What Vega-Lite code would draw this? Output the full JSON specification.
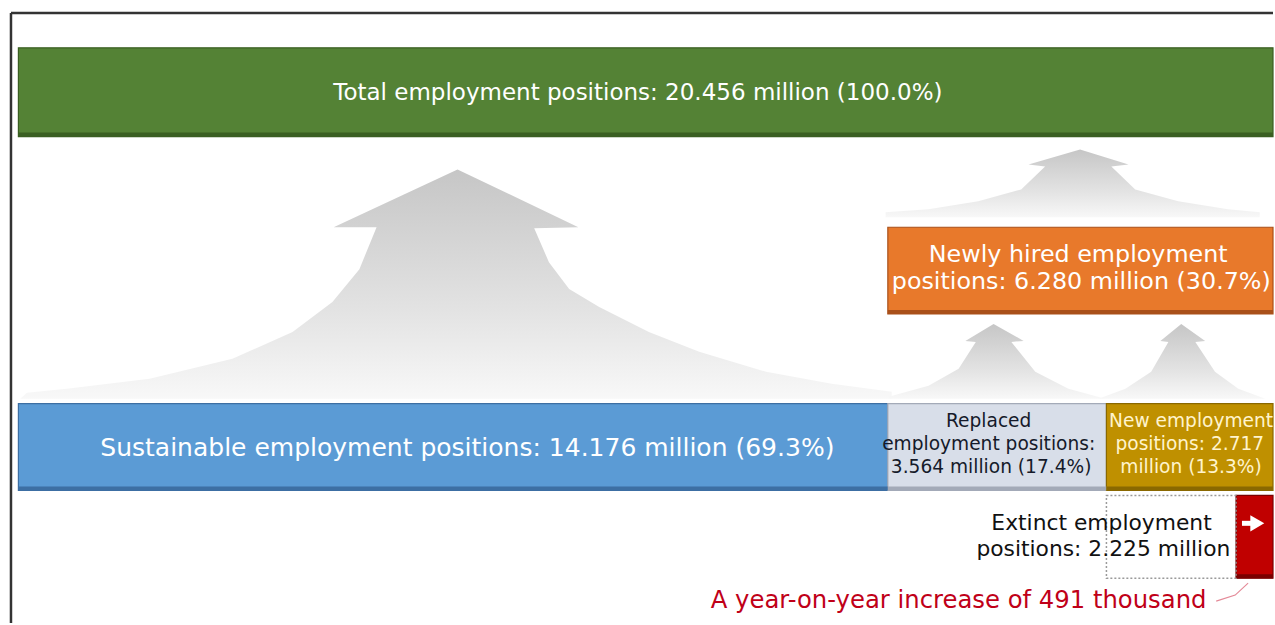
{
  "$schema": "https://vega.github.io/schema/vega-lite/v6.json",
  "width": 1275,
  "height": 625,
  "padding": 0,
  "autosize": {"type": "fit", "contains": "padding"},
  "background": "white",
  "config": {"view": {"stroke": null}, "font": "DejaVu Sans"},
  "datasets": {
    "bars": [
      {"name": "Total", "x0": 0, "x1": 20.456, "top": 48, "bottom": 137},
      {"name": "Newly hired", "x0": 14.176, "x1": 20.456, "top": 228, "bottom": 315},
      {"name": "Sustainable", "x0": 0, "x1": 14.176, "top": 405, "bottom": 492},
      {"name": "Replaced", "x0": 14.176, "x1": 17.74, "top": 405, "bottom": 492},
      {"name": "New", "x0": 17.74, "x1": 20.456, "top": 405, "bottom": 492},
      {"name": "Extinct", "x0": 19.853, "x1": 20.456, "top": 497, "bottom": 580}
    ],
    "arrows": [
      {"arrow": "A", "i": 1, "x": 0.03, "y": 400},
      {"arrow": "A", "i": 2, "x": 0.14, "y": 394},
      {"arrow": "A", "i": 3, "x": 0.79, "y": 390},
      {"arrow": "A", "i": 4, "x": 2.14, "y": 380},
      {"arrow": "A", "i": 5, "x": 3.49, "y": 360},
      {"arrow": "A", "i": 6, "x": 4.47, "y": 333},
      {"arrow": "A", "i": 7, "x": 5.12, "y": 303},
      {"arrow": "A", "i": 8, "x": 5.56, "y": 270},
      {"arrow": "A", "i": 9, "x": 5.84, "y": 228},
      {"arrow": "A", "i": 10, "x": 5.14, "y": 228},
      {"arrow": "A", "i": 11, "x": 7.16, "y": 170},
      {"arrow": "A", "i": 12, "x": 9.13, "y": 228},
      {"arrow": "A", "i": 13, "x": 8.41, "y": 229},
      {"arrow": "A", "i": 14, "x": 8.65, "y": 263},
      {"arrow": "A", "i": 15, "x": 8.98, "y": 290},
      {"arrow": "A", "i": 16, "x": 9.47, "y": 308},
      {"arrow": "A", "i": 17, "x": 10.28, "y": 333},
      {"arrow": "A", "i": 18, "x": 11.10, "y": 353},
      {"arrow": "A", "i": 19, "x": 12.19, "y": 373},
      {"arrow": "A", "i": 20, "x": 13.26, "y": 385},
      {"arrow": "A", "i": 21, "x": 14.24, "y": 393},
      {"arrow": "A", "i": 22, "x": 14.24, "y": 400},
      {"arrow": "B", "i": 1, "x": 14.14, "y": 218},
      {"arrow": "B", "i": 2, "x": 14.14, "y": 213},
      {"arrow": "B", "i": 3, "x": 14.84, "y": 210},
      {"arrow": "B", "i": 4, "x": 15.65, "y": 202},
      {"arrow": "B", "i": 5, "x": 16.35, "y": 190},
      {"arrow": "B", "i": 6, "x": 16.74, "y": 167},
      {"arrow": "B", "i": 7, "x": 16.47, "y": 165},
      {"arrow": "B", "i": 8, "x": 17.31, "y": 150},
      {"arrow": "B", "i": 9, "x": 18.10, "y": 165},
      {"arrow": "B", "i": 10, "x": 17.82, "y": 167},
      {"arrow": "B", "i": 11, "x": 18.21, "y": 190},
      {"arrow": "B", "i": 12, "x": 18.91, "y": 202},
      {"arrow": "B", "i": 13, "x": 19.72, "y": 210},
      {"arrow": "B", "i": 14, "x": 20.24, "y": 213},
      {"arrow": "B", "i": 15, "x": 20.24, "y": 218},
      {"arrow": "C", "i": 1, "x": 14.19, "y": 400},
      {"arrow": "C", "i": 2, "x": 14.19, "y": 398},
      {"arrow": "C", "i": 3, "x": 14.84, "y": 387},
      {"arrow": "C", "i": 4, "x": 15.33, "y": 370},
      {"arrow": "C", "i": 5, "x": 15.61, "y": 343},
      {"arrow": "C", "i": 6, "x": 15.44, "y": 342},
      {"arrow": "C", "i": 7, "x": 15.90, "y": 325},
      {"arrow": "C", "i": 8, "x": 16.39, "y": 342},
      {"arrow": "C", "i": 9, "x": 16.19, "y": 343},
      {"arrow": "C", "i": 10, "x": 16.58, "y": 373},
      {"arrow": "C", "i": 11, "x": 17.12, "y": 390},
      {"arrow": "C", "i": 12, "x": 17.72, "y": 400},
      {"arrow": "D", "i": 1, "x": 17.61, "y": 400},
      {"arrow": "D", "i": 2, "x": 18.05, "y": 390},
      {"arrow": "D", "i": 3, "x": 18.47, "y": 373},
      {"arrow": "D", "i": 4, "x": 18.75, "y": 343},
      {"arrow": "D", "i": 5, "x": 18.62, "y": 342},
      {"arrow": "D", "i": 6, "x": 18.96, "y": 325},
      {"arrow": "D", "i": 7, "x": 19.35, "y": 342},
      {"arrow": "D", "i": 8, "x": 19.19, "y": 343},
      {"arrow": "D", "i": 9, "x": 19.51, "y": 373},
      {"arrow": "D", "i": 10, "x": 19.89, "y": 390},
      {"arrow": "D", "i": 11, "x": 20.33, "y": 400}
    ],
    "texts": [
      {"group": "total", "x": 10.10, "y": 93, "label": "Total employment positions: 20.456 million (100.0%)"},
      {"group": "main", "x": 7.32, "y": 449, "label": "Sustainable employment positions: 14.176 million (69.3%)"},
      {"group": "hired", "x": 17.28, "y": 256, "label": "Newly hired employment"},
      {"group": "hired", "x": 17.33, "y": 283, "label": "positions: 6.280 million (30.7%)"},
      {"group": "replaced", "x": 15.82, "y": 422, "label": "Replaced"},
      {"group": "replaced", "x": 15.82, "y": 445, "label": "employment positions:"},
      {"group": "replaced", "x": 15.86, "y": 468, "label": "3.564 million (17.4%)"},
      {"group": "new", "x": 19.12, "y": 422, "label": "New employment"},
      {"group": "new", "x": 19.10, "y": 445, "label": "positions: 2.717"},
      {"group": "new", "x": 19.12, "y": 468, "label": "million (13.3%)"},
      {"group": "extinct", "x": 17.66, "y": 525, "label": "Extinct employment"},
      {"group": "extinct", "x": 17.69, "y": 551, "label": "positions: 2.225 million"},
      {"group": "red", "x": 15.33, "y": 603, "label": "A year-on-year increase of 491 thousand"}
    ]
  },
  "encoding": {
    "x": {"type": "quantitative", "scale": {"domain": [-0.3, 20.456], "nice": false, "zero": false}, "axis": null},
    "y": {"type": "quantitative", "scale": {"domain": [0, 625], "reverse": true, "nice": false, "zero": false}, "axis": null}
  },
  "layer": [
    {
      "data": {"name": "arrows"},
      "mark": {
        "type": "line",
        "strokeOpacity": 0,
        "fill": {"gradient": "linear", "x1": 0, "y1": 0, "x2": 0, "y2": 1,
          "stops": [{"offset": 0, "color": "#c6c6c6"}, {"offset": 0.6, "color": "#e2e2e2"}, {"offset": 1, "color": "#f8f8f8"}]}
      },
      "encoding": {
        "x": {"field": "x"},
        "y": {"field": "y"},
        "detail": {"field": "arrow"},
        "order": {"field": "i"}
      }
    },
    {
      "data": {"name": "bars"},
      "mark": {"type": "rect", "strokeWidth": 1.2},
      "encoding": {
        "x": {"field": "x0"},
        "x2": {"field": "x1"},
        "y": {"field": "top"},
        "y2": {"field": "bottom"},
        "fill": {"field": "name", "type": "nominal", "legend": null,
          "scale": {"domain": ["Total", "Newly hired", "Sustainable", "Replaced", "New", "Extinct"],
                    "range": ["#548235", "#e8792b", "#5b9bd5", "#d8dee9", "#bf9000", "#c00000"]}},
        "stroke": {"field": "name", "type": "nominal", "legend": null,
          "scale": {"domain": ["Total", "Newly hired", "Sustainable", "Replaced", "New", "Extinct"],
                    "range": ["#3a5f22", "#a9501a", "#3d6fa3", "#a3aab8", "#8a6800", "#7a0000"]}}
      }
    },
    {
      "data": {"name": "bars"},
      "mark": {"type": "rule", "strokeWidth": 4, "yOffset": -2},
      "encoding": {
        "x": {"field": "x0"},
        "x2": {"field": "x1"},
        "y": {"field": "bottom"},
        "stroke": {"field": "name", "type": "nominal", "legend": null}
      }
    },
    {
      "data": {"values": [{"x0": 17.74, "x1": 19.853, "top": 497, "bottom": 580}]},
      "mark": {"type": "rect", "fill": null, "stroke": "#9a9a9a", "strokeWidth": 1.5, "strokeDash": [2, 2]},
      "encoding": {
        "x": {"field": "x0"},
        "x2": {"field": "x1"},
        "y": {"field": "top"},
        "y2": {"field": "bottom"}
      }
    },
    {
      "data": {"values": [{"x0": 19.95, "x1": 20.17, "y": 525}]},
      "mark": {"type": "rule", "color": "white", "strokeWidth": 5},
      "encoding": {"x": {"field": "x0"}, "x2": {"field": "x1"}, "y": {"field": "y"}}
    },
    {
      "data": {"values": [{"x": 20.2, "y": 525}]},
      "mark": {"type": "point", "shape": "triangle-right", "filled": true, "color": "white", "size": 260, "opacity": 1},
      "encoding": {"x": {"field": "x"}, "y": {"field": "y"}}
    },
    {
      "data": {"values": [{"i": 1, "x": 19.53, "y": 603}, {"i": 2, "x": 19.84, "y": 597}, {"i": 3, "x": 20.05, "y": 585}]},
      "mark": {"type": "line", "color": "#e48a98", "strokeWidth": 1.2},
      "encoding": {"x": {"field": "x"}, "y": {"field": "y"}, "order": {"field": "i"}}
    },
    {
      "data": {"values": [{"x": -0.121, "y0": 13, "y1": 625}]},
      "mark": {"type": "rule", "color": "#333333", "strokeWidth": 2.5},
      "encoding": {"x": {"field": "x"}, "y": {"field": "y0"}, "y2": {"field": "y1"}}
    },
    {
      "data": {"values": [{"x0": -0.121, "x1": 20.456, "y": 13}]},
      "mark": {"type": "rule", "color": "#333333", "strokeWidth": 2.5},
      "encoding": {"x": {"field": "x0"}, "x2": {"field": "x1"}, "y": {"field": "y"}}
    },
    {
      "data": {"name": "texts"},
      "transform": [{"filter": "datum.group === 'total'"}],
      "mark": {"type": "text", "color": "white", "fontSize": 23, "align": "center", "baseline": "middle"},
      "encoding": {"x": {"field": "x"}, "y": {"field": "y"}, "text": {"field": "label"}}
    },
    {
      "data": {"name": "texts"},
      "transform": [{"filter": "datum.group === 'main'"}],
      "mark": {"type": "text", "color": "white", "fontSize": 25, "align": "center", "baseline": "middle"},
      "encoding": {"x": {"field": "x"}, "y": {"field": "y"}, "text": {"field": "label"}}
    },
    {
      "data": {"name": "texts"},
      "transform": [{"filter": "datum.group === 'hired'"}],
      "mark": {"type": "text", "color": "white", "fontSize": 23.8, "align": "center", "baseline": "middle"},
      "encoding": {"x": {"field": "x"}, "y": {"field": "y"}, "text": {"field": "label"}}
    },
    {
      "data": {"name": "texts"},
      "transform": [{"filter": "datum.group === 'replaced'"}],
      "mark": {"type": "text", "color": "#151a2a", "fontSize": 18.6, "align": "center", "baseline": "middle"},
      "encoding": {"x": {"field": "x"}, "y": {"field": "y"}, "text": {"field": "label"}}
    },
    {
      "data": {"name": "texts"},
      "transform": [{"filter": "datum.group === 'new'"}],
      "mark": {"type": "text", "color": "#fff4cc", "fontSize": 18.6, "align": "center", "baseline": "middle"},
      "encoding": {"x": {"field": "x"}, "y": {"field": "y"}, "text": {"field": "label"}}
    },
    {
      "data": {"name": "texts"},
      "transform": [{"filter": "datum.group === 'extinct'"}],
      "mark": {"type": "text", "color": "#111111", "fontSize": 21.8, "align": "center", "baseline": "middle"},
      "encoding": {"x": {"field": "x"}, "y": {"field": "y"}, "text": {"field": "label"}}
    },
    {
      "data": {"name": "texts"},
      "transform": [{"filter": "datum.group === 'red'"}],
      "mark": {"type": "text", "color": "#c00018", "fontSize": 24.3, "align": "center", "baseline": "middle"},
      "encoding": {"x": {"field": "x"}, "y": {"field": "y"}, "text": {"field": "label"}}
    }
  ]
}
